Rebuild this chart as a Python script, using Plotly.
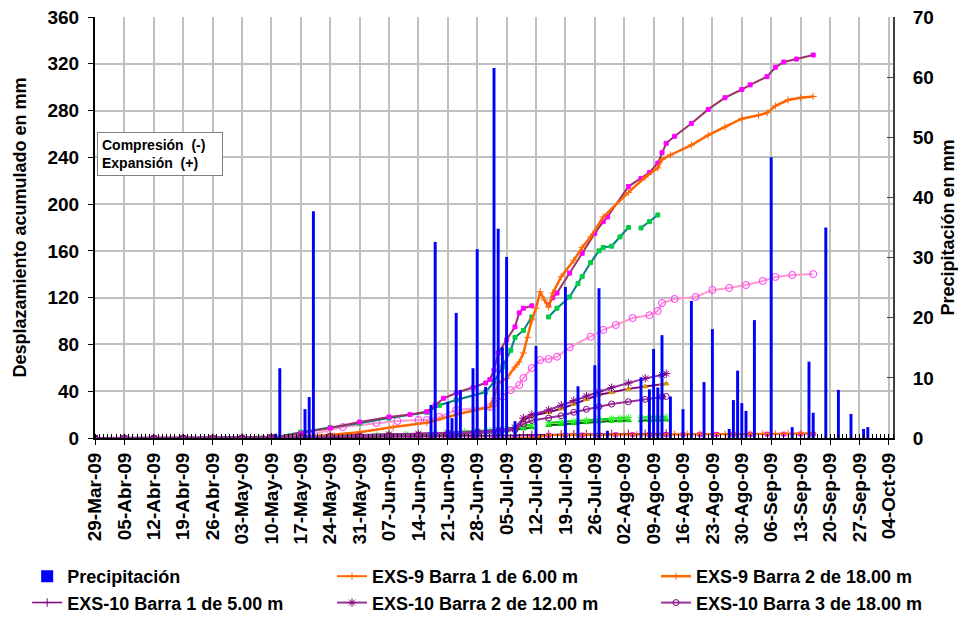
import plotly.graph_objects as go

# ---------------- data ----------------
tick_dates = ["2009-03-29", "2009-04-05", "2009-04-12", "2009-04-19", "2009-04-26", "2009-05-03",
              "2009-05-10", "2009-05-17", "2009-05-24", "2009-05-31", "2009-06-07", "2009-06-14",
              "2009-06-21", "2009-06-28", "2009-07-05", "2009-07-12", "2009-07-19", "2009-07-26",
              "2009-08-02", "2009-08-09", "2009-08-16", "2009-08-23", "2009-08-30", "2009-09-06",
              "2009-09-13", "2009-09-20", "2009-09-27", "2009-10-04"]
tick_labels = ["29-Mar-09", "05-Abr-09", "12-Abr-09", "19-Abr-09", "26-Abr-09", "03-May-09",
               "10-May-09", "17-May-09", "24-May-09", "31-May-09", "07-Jun-09", "14-Jun-09",
               "21-Jun-09", "28-Jun-09", "05-Jul-09", "12-Jul-09", "19-Jul-09", "26-Jul-09",
               "02-Ago-09", "09-Ago-09", "16-Ago-09", "23-Ago-09", "30-Ago-09", "06-Sep-09",
               "13-Sep-09", "20-Sep-09", "27-Sep-09", "04-Oct-09"]

precip_dates = ["2009-05-11", "2009-05-12", "2009-05-18", "2009-05-19", "2009-05-20", "2009-06-17",
                "2009-06-18", "2009-06-21", "2009-06-22", "2009-06-23", "2009-06-24", "2009-06-27",
                "2009-06-28", "2009-06-30", "2009-07-02", "2009-07-03", "2009-07-04", "2009-07-05",
                "2009-07-07", "2009-07-12", "2009-07-19", "2009-07-22", "2009-07-26", "2009-07-27",
                "2009-07-29", "2009-08-06", "2009-08-08", "2009-08-09", "2009-08-10", "2009-08-11",
                "2009-08-13", "2009-08-16", "2009-08-18", "2009-08-21", "2009-08-23", "2009-08-27",
                "2009-08-28", "2009-08-29", "2009-08-30", "2009-08-31", "2009-09-02", "2009-09-06",
                "2009-09-11", "2009-09-15", "2009-09-16", "2009-09-19", "2009-09-22", "2009-09-25",
                "2009-09-28", "2009-09-29"]
precip_mm = [0.7, 11.6, 4.8, 6.8, 37.7, 5.5,
             32.6, 6.0, 3.3, 20.8, 8.0, 11.6,
             31.4, 8.5, 61.5, 34.8, 15.1, 30.1,
             2.8, 15.3, 25.1, 8.6, 12.1, 24.9,
             1.2, 10.1, 8.1, 14.8, 8.4, 17.1,
             6.9, 4.8, 22.8, 9.3, 18.1, 1.5,
             6.3, 11.2, 5.8, 4.5, 19.6, 46.7,
             1.8, 12.7, 4.2, 35.0, 8.0, 4.0,
             1.5, 1.8]

# EXS-9 Barra 2 (large orange curve)
exs9_b2_dates = ["2009-05-10", "2009-05-19", "2009-05-31", "2009-06-08", "2009-06-16", "2009-06-21",
                 "2009-06-24", "2009-07-01", "2009-07-02", "2009-07-03", "2009-07-05", "2009-07-07",
                 "2009-07-08", "2009-07-09", "2009-07-10", "2009-07-11", "2009-07-12", "2009-07-13",
                 "2009-07-14", "2009-07-15", "2009-07-16", "2009-07-18", "2009-07-21", "2009-07-23",
                 "2009-07-25", "2009-07-28", "2009-08-03", "2009-08-07", "2009-08-10", "2009-08-11",
                 "2009-08-13", "2009-08-18", "2009-08-22", "2009-08-26", "2009-08-30", "2009-09-03",
                 "2009-09-05", "2009-09-07", "2009-09-10", "2009-09-13", "2009-09-16"]
exs9_b2_mm = [0, 1, 5, 9.4, 13, 18,
              21, 26.5, 34, 47, 51, 60.7,
              65, 72.7, 86, 101, 111, 125,
              118, 112, 124, 138, 152, 163,
              172, 189, 210, 223, 231, 238,
              242, 250.5, 259, 266, 273, 276,
              278, 284, 289, 291, 292]

# EXS-9 Barra 1 (orange, near zero)
exs9_b1_dates = ["2009-07-07", "2009-07-10", "2009-07-12", "2009-07-15", "2009-07-18", "2009-07-21",
                 "2009-07-24", "2009-07-27", "2009-07-30", "2009-08-02", "2009-08-05", "2009-08-08",
                 "2009-08-11", "2009-08-14", "2009-08-17", "2009-08-20", "2009-08-23", "2009-08-26",
                 "2009-08-29", "2009-09-01", "2009-09-04", "2009-09-07", "2009-09-10", "2009-09-13",
                 "2009-09-16"]
exs9_b1_mm = [0, 0, 0.3, 2.5, 2.6, 2.7, 2.8, 2.9, 3.0, 3.0, 3.1, 3.1,
              3.2, 3.3, 3.3, 3.4, 3.4, 3.5, 3.5, 3.6, 3.6, 3.7, 3.8, 3.9, 4.0]

# magenta-marked curve (largest)
mag_dates = ["2009-05-10", "2009-05-17", "2009-05-24", "2009-05-31", "2009-06-07", "2009-06-12",
             "2009-06-16", "2009-06-18", "2009-06-20", "2009-06-23", "2009-06-27", "2009-06-30",
             "2009-07-01", "2009-07-02", "2009-07-03", "2009-07-05", "2009-07-07", "2009-07-08",
             "2009-07-09", "2009-07-11", "2009-07-13", "2009-07-15", "2009-07-16", "2009-07-17",
             "2009-07-20", "2009-07-23", "2009-07-26", "2009-07-28", "2009-07-29", "2009-08-03",
             "2009-08-06", "2009-08-08", "2009-08-10", "2009-08-11", "2009-08-12", "2009-08-14",
             "2009-08-18", "2009-08-22", "2009-08-26", "2009-08-30", "2009-09-01", "2009-09-05",
             "2009-09-07", "2009-09-09", "2009-09-12", "2009-09-16"]
mag_mm = [0, 4, 8.5, 13.7, 18, 20,
          22.5, 28, 34, 38.5, 43, 47,
          50, 58, 72.7, 84, 95, 107,
          111, 113, None, 114, 120, 124,
          141, 158, 175, 185, 189, 215,
          222, 227, 235, 244, 252, 258,
          269, 281, 291, 298, 302, 309,
          317, 321.5, 324, 327.5]

# green curve
grn_dates = ["2009-05-10", "2009-05-17", "2009-05-24", "2009-05-31", "2009-06-07", "2009-06-16",
             "2009-06-19", "2009-06-23", "2009-06-30", "2009-07-02", "2009-07-04", "2009-07-06",
             "2009-07-07", "2009-07-09", "2009-07-11", "2009-07-13", "2009-07-15", "2009-07-17",
             "2009-07-20", "2009-07-22", "2009-07-23", "2009-07-25", "2009-07-27", "2009-07-28",
             "2009-07-30", "2009-08-01", "2009-08-03", "2009-08-04", "2009-08-06", "2009-08-08",
             "2009-08-10"]
grn_mm = [0, 5, 9, 12.5, 17, 22,
          28, 32.5, 39.3, 48, 60.7, 75,
          86, 92, 103.5, None, 103.5, 111,
          120.6, 132, 138, 150, 160, 163,
          164, 172, 180, None, 179.6, 185,
          190.7]

# pink circles curve
pink_dates = ["2009-05-10", "2009-05-19", "2009-05-27", "2009-06-04", "2009-06-09", "2009-06-14",
              "2009-06-16", "2009-06-19", "2009-06-23", "2009-07-01", "2009-07-02", "2009-07-04",
              "2009-07-06", "2009-07-08", "2009-07-09", "2009-07-11", "2009-07-13", "2009-07-15",
              "2009-07-17", "2009-07-20", "2009-07-25", "2009-07-28", "2009-07-31", "2009-08-04",
              "2009-08-08", "2009-08-10", "2009-08-11", "2009-08-14", "2009-08-19", "2009-08-23",
              "2009-08-27", "2009-08-31", "2009-09-04", "2009-09-07", "2009-09-11", "2009-09-16"]
pink_mm = [0, 2.6, 9.4, 12.8, 14.5, 15.4,
           15.4, 18, 24, 26.5, 29.9, 35.3,
           41, 45.3, 51.3, 59.9, 66.7, 67.5,
           69.5, 77.6, 86.6, 92.4, 96.6, 102.6,
           105, 108.6, 115.4, 118.9, 120.6, 126.6,
           128.3, 130.8, 134.3, 137.7, 139.4, 140.2]

# EXS-10 series
exs10_dates = ["2009-03-29", "2009-04-05", "2009-04-12", "2009-04-19", "2009-04-26", "2009-05-03",
               "2009-05-10", "2009-05-17", "2009-05-24", "2009-05-31", "2009-06-07", "2009-06-14",
               "2009-06-21", "2009-06-28", "2009-07-03", "2009-07-07", "2009-07-09", "2009-07-11",
               "2009-07-15", "2009-07-18", "2009-07-21", "2009-07-24", "2009-07-27", "2009-07-30",
               "2009-08-03", "2009-08-07", "2009-08-11", "2009-08-12"]
exs10_b1_mm = [0, 0, 0, 0, 0, 0,
               0.2, 0.4, 0.6, 0.8, 1.0, 1.2,
               1.5, 1.8, 2.0, 2.3, 2.6, 2.8,
               3.0, 3.1, 3.2, 3.3, 3.4, 3.5,
               3.6, 3.7, 3.8, 3.8]
exs10_b2_mm = [0, 0, 0, 0, 0, 0.3,
               0.8, 1.5, 2, 2.5, 3, 3.5,
               4.5, 5.5, 7, 9, 17, 20,
               24, 28, 32, 36, 39.6, 43,
               47, 51, 53.9, 55]
exs10_tri_mm = [0, 0, 0, 0, 0, 0.2,
                0.6, 1.2, 1.8, 2.2, 2.7, 3.2,
                4, 5, 6.5, 8.5, 15, 19,
                22, 25, 29, 33, 37, 39,
                42, 44, 46, 46.5]
exs10_b3_mm = [0, 0, 0, 0, 0, 0.1,
               0.4, 0.8, 1.2, 1.6, 2, 2.5,
               3, 4, 5, 7, 12, 15,
               17, 19, 22, 24.5, 26.8, 29,
               31, 33, 35.3, 35.5]

# low green curves
lowg_dates = ["2009-05-03", "2009-05-07", "2009-05-10", "2009-05-14", "2009-05-17", "2009-05-21",
              "2009-05-24", "2009-05-28", "2009-05-31", "2009-06-04", "2009-06-07", "2009-06-11",
              "2009-06-14", "2009-06-18", "2009-06-21", "2009-06-25", "2009-06-28", "2009-07-01",
              "2009-07-03", "2009-07-05", "2009-07-07", "2009-07-09", "2009-07-11", "2009-07-13",
              "2009-07-15", "2009-07-18", "2009-07-21", "2009-07-24", "2009-07-27", "2009-07-30",
              "2009-08-01", "2009-08-03", "2009-08-04", "2009-08-06", "2009-08-08", "2009-08-10",
              "2009-08-12"]
lowg1_mm = [0, 0.3, 0.5, 0.8, 1, 1.3,
            1.5, 1.8, 2, 2.5, 3, 3.2,
            3.5, 4, 4.5, 5.2, 6, 6.5,
            7, 8, 9, 10, 11.5, None,
            13, 13.8, 14.5, 15.3, 16, 16.6,
            17, 17.5, None, 17.5, 17.7, 18, 18]
lowg2_mm = [0, 0.2, 0.3, 0.5, 0.6, 0.8,
            1, 1.2, 1.4, 1.7, 2, 2.2,
            2.5, 2.9, 3.3, 3.9, 4.5, 5,
            5.5, 6.2, 7, 8, 9, None,
            11, 11.8, 12.5, 13.3, 14, 14.5,
            14.8, 15, None, 15, 15.2, 15.4, 15.5]

# magenta near-zero curve
lowm_dates = ["2009-05-03", "2009-05-08", "2009-05-13", "2009-05-18", "2009-05-23", "2009-05-28",
              "2009-06-02", "2009-06-07", "2009-06-12", "2009-06-17", "2009-06-22", "2009-06-27",
              "2009-07-02", "2009-07-07", "2009-07-11", "2009-07-15", "2009-07-19", "2009-07-23",
              "2009-07-27", "2009-07-31", "2009-08-04", "2009-08-08", "2009-08-12", "2009-08-16",
              "2009-08-20", "2009-08-24", "2009-08-28", "2009-09-01", "2009-09-05", "2009-09-09",
              "2009-09-13", "2009-09-16"]
lowm_mm = [0, 0.1, 0.2, 0.3, 0.4, 0.5, 0.5, 0.6, 0.7, 0.8, 0.9, 1.0,
           1.0, 1.0, 1.0, 2.3, 2.4, 2.5, 2.6, 2.7, 2.8, 2.9, 3.0, 3.0,
           3.1, 3.1, 3.2, 3.2, 3.3, 3.3, 3.4, 3.4]

# ---------------- figure ----------------
fig = go.Figure()

FONT = "Liberation Sans"


def line(x, y, name, lcolor, mcolor, symbol, msize, lw=2, show=False, legend="legend"):
    fig.add_trace(go.Scatter(x=x, y=y, name=name, mode="lines+markers",
                             line=dict(color=lcolor, width=lw),
                             marker=dict(symbol=symbol, size=msize, color=mcolor,
                                         line=dict(color=mcolor, width=1)),
                             showlegend=show, connectgaps=False, yaxis="y", legend=legend))


# curves without legend entry
line(lowm_dates, lowm_mm, "m", "#FF99CC", "#FF00FF", "square", 4)
line(lowg_dates, lowg2_mm, "g2", "#006600", "#00CC00", "triangle-up", 5)
line(lowg_dates, lowg1_mm, "g1", "#00CC00", "#33FF33", "asterisk-open", 6)
line(exs10_dates, exs10_tri_mm, "t", "#800080", "#CC9900", "triangle-up", 5)
line(pink_dates, pink_mm, "p", "#FF99CC", "#FF33FF", "circle-open", 7)
line(grn_dates, grn_mm, "g", "#008080", "#00CC44", "square", 4)
line(mag_dates, mag_mm, "mg", "#993366", "#FF00FF", "square", 4)

# legend entries (three legend columns)
fig.add_trace(go.Bar(x=precip_dates, y=precip_mm, name="Precipitación", marker_color="#0000FF",
                     marker_line_width=0, width=0.7 * 86400000, yaxis="y2", legend="legend"))
line(exs10_dates, exs10_b1_mm, "EXS-10 Barra 1 de 5.00 m", "#800080", "#800080", "cross-thin-open", 6,
     lw=1.5, show=True, legend="legend")
line(exs9_b1_dates, exs9_b1_mm, "EXS-9 Barra 1 de 6.00 m", "#FF6600", "#FF6600", "cross-thin-open", 5,
     show=True, legend="legend2")
line(exs10_dates, exs10_b2_mm, "EXS-10 Barra 2 de 12.00 m", "#993399", "#800080", "asterisk-open", 7,
     show=True, legend="legend2")
line(exs9_b2_dates, exs9_b2_mm, "EXS-9 Barra 2 de 18.00 m", "#FF6600", "#FF6600", "cross-thin-open", 5,
     lw=2.5, show=True, legend="legend3")
line(exs10_dates, exs10_b3_mm, "EXS-10 Barra 3 de 18.00 m", "#993399", "#800080", "circle-open", 6,
     show=True, legend="legend3")

grid = "#C0C0C0"
leg_common = dict(orientation="v", yanchor="top", xanchor="left", y=-0.285,
                  font=dict(size=18, weight="bold", family=FONT), itemwidth=30,
                  bgcolor="rgba(0,0,0,0)", tracegroupgap=0, traceorder="normal")

fig.update_layout(
    width=958, height=618,
    margin=dict(l=95, r=65, t=17, b=180, autoexpand=False),
    paper_bgcolor="white", plot_bgcolor="white",
    font=dict(family=FONT, size=18, color="black", weight="bold"),
    barmode="overlay",
    xaxis=dict(type="date", range=["2009-03-29", "2009-10-05"], automargin=False,
               tickmode="array", tickvals=tick_dates, ticktext=tick_labels,
               tickangle=-90, tickfont=dict(size=19, weight="bold"),
               showgrid=True, gridcolor=grid, gridwidth=1.5,
               showline=True, linecolor="black", linewidth=2,
               ticks="outside", ticklen=5, tickcolor="black",
               minor=dict(tickmode="linear", tick0="2009-03-29", dtick=86400000,
                          ticks="inside", ticklen=4, tickcolor="black", showgrid=False),
               zeroline=False),
    yaxis=dict(range=[0, 360], dtick=40, tick0=0, automargin=False,
               title=dict(text="Desplazamiento acumulado en mm", font=dict(size=18, weight="bold"),
                          standoff=16),
               tickfont=dict(size=19, weight="bold"), ticklabelstandoff=5,
               showgrid=True, gridcolor=grid, gridwidth=1.5,
               showline=True, linecolor="black", linewidth=2,
               ticks="outside", ticklen=5, tickcolor="black", zeroline=False),
    yaxis2=dict(range=[0, 70], dtick=10, tick0=0, overlaying="y", side="right", automargin=False,
                title=dict(text="Precipitación en mm", font=dict(size=18, weight="bold"), standoff=10),
                tickfont=dict(size=19, weight="bold"), ticklabelstandoff=14,
                showgrid=False, showline=True, linecolor="#404040", linewidth=2,
                ticks="inside", ticklen=6, tickcolor="#404040", zeroline=False),
    legend=dict(leg_common, x=-0.085),
    legend2=dict(leg_common, x=0.297),
    legend3=dict(leg_common, x=0.703),
    annotations=[dict(xref="paper", yref="paper", x=0.002, y=0.727, xanchor="left", yanchor="top",
                      text="Compresión\u00a0\u00a0(-)<br>Expansión\u00a0\u00a0(+)", align="left",
                      showarrow=False, font=dict(size=14, weight="bold"),
                      bordercolor="#808080", borderwidth=1, bgcolor="white", borderpad=4,
                      width=116)],
)

fig.write_html("out.html", config={"displayModeBar": False},
               post_script="document.body.style.margin='0';")
